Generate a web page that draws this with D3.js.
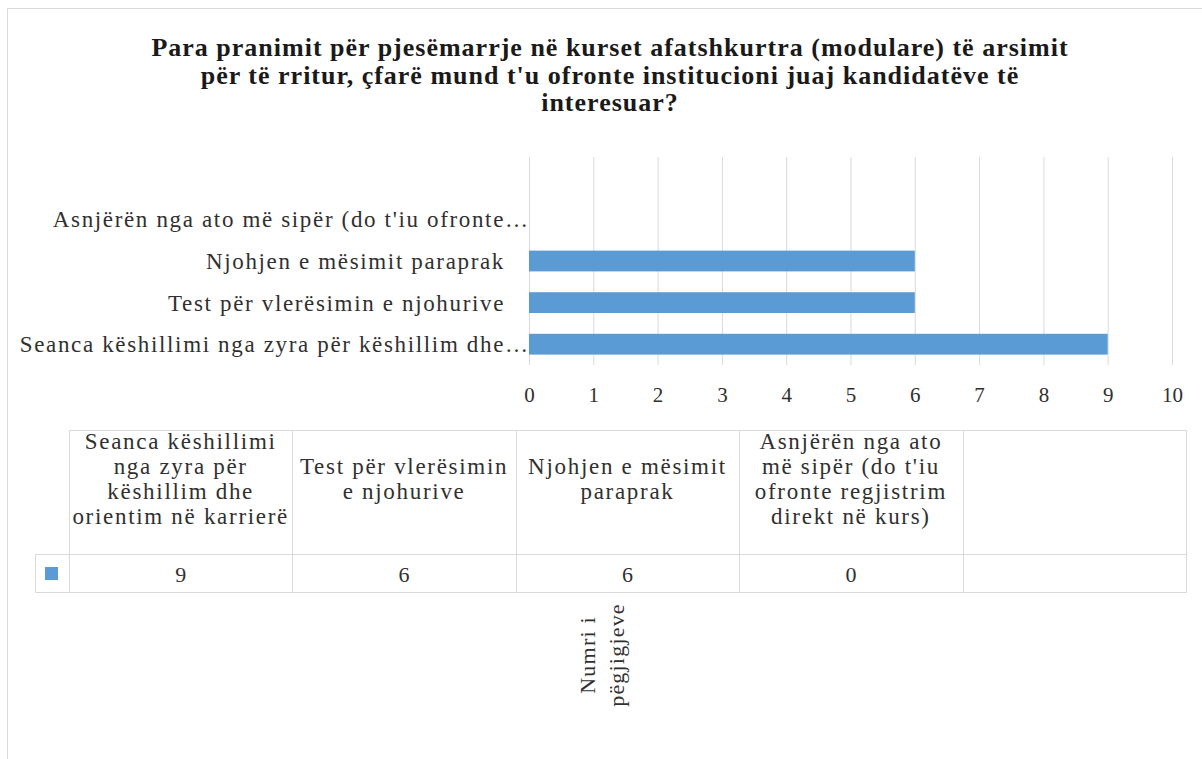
<!DOCTYPE html>
<html>
<head>
<meta charset="utf-8">
<script src="https://cdn.jsdelivr.net/npm/d3@7"></script>
<style>
  html, body { margin: 0; padding: 0; background: #fff; }
  svg { display: block; }
  text { font-family: "Liberation Serif", "Times New Roman", serif; }
</style>
</head>
<body>
<svg id="chart" width="1202" height="759"></svg>
<script>
// ---- data ----
const titleLines = [
  "Para pranimit për pjesëmarrje në kurset afatshkurtra (modulare) të arsimit",
  "për të rritur, çfarë mund t'u ofronte institucioni juaj kandidatëve të",
  "interesuar?"
];
const categories = [
  "Seanca këshillimi nga zyra për këshillim dhe orientim në karrierë",
  "Test për vlerësimin e njohurive",
  "Njohjen e mësimit paraprak",
  "Asnjërën nga ato më sipër (do t'iu ofronte regjistrim direkt në kurs)",
  ""
];
const axisLabels = [
  "Seanca këshillimi nga zyra për këshillim dhe…",
  "Test për vlerësimin e njohurive",
  "Njohjen e mësimit paraprak",
  "Asnjërën nga ato më sipër (do t'iu ofronte…",
  ""
];
const values = [9, 6, 6, 0, null];
const tableHeaderLines = [
  ["Seanca këshillimi", "nga zyra për", "këshillim  dhe", "orientim në karrierë"],
  ["Test për vlerësimin", "e njohurive"],
  ["Njohjen e mësimit", "paraprak"],
  ["Asnjërën nga ato", "më sipër (do t'iu", "ofronte regjistrim", "direkt në kurs)"],
  []
];
const xTicks = [0, 1, 2, 3, 4, 5, 6, 7, 8, 9, 10];
const axisTitleLines = ["Numri i", "pëgjigjeve"];

// ---- drawing ----
const svg = d3.select("#chart");
const textColor = "#303030";
const gridColor = "#d9d9d9";
const barColor = "#5b9bd5";

// outer chart border (top & left visible)
svg.append("path")
  .attr("d", "M7.5,759 L7.5,8.5 L1202,8.5")
  .attr("fill", "none").attr("stroke", gridColor).attr("stroke-width", 1);

// title
svg.append("g").selectAll("text").data(titleLines).join("text")
  .attr("x", 610).attr("y", (d, i) => 56 + i * 27.5)
  .attr("text-anchor", "middle")
  .attr("font-size", 26).attr("font-weight", "bold").attr("letter-spacing", 1)
  .attr("fill", "#1a1a1a")
  .text(d => d);

const x = d3.scaleLinear().domain([0, 10]).range([529, 1172]);
const yOrder = categories.map((c, i) => i).reverse(); // empty on top, first at bottom
const y = d3.scaleBand().domain(yOrder).range([157, 365]).paddingInner(0.5).paddingOuter(0.25);

// gridlines
svg.append("g").selectAll("line").data(xTicks).join("line")
  .attr("x1", d => x(d) + 0.5).attr("x2", d => x(d) + 0.5)
  .attr("y1", 157).attr("y2", 365)
  .attr("stroke", gridColor).attr("stroke-width", 1);

// bars
svg.append("g").selectAll("rect").data(values.map((v, i) => ({ v, i })).filter(d => d.v))
  .join("rect")
  .attr("x", x(0)).attr("y", d => y(d.i))
  .attr("width", d => x(d.v) - x(0)).attr("height", y.bandwidth())
  .attr("fill", barColor);

// category axis labels (ellipsis overflows past the label edge)
const labG = svg.append("g");
axisLabels.forEach((t, i) => {
  if (!t) return;
  const trunc = t.endsWith("…");
  const base = trunc ? t.slice(0, -1) : t;
  const yy = y(i) + y.bandwidth() / 2;
  labG.append("text")
    .attr("x", 505).attr("y", yy).attr("dy", "0.35em")
    .attr("text-anchor", "end")
    .attr("font-size", 23).attr("letter-spacing", 1.65)
    .attr("fill", textColor)
    .text(base);
  if (trunc) {
    labG.append("text")
      .attr("x", 505).attr("y", yy).attr("dy", "0.35em")
      .attr("text-anchor", "start")
      .attr("font-size", 23)
      .attr("fill", textColor)
      .text("…");
  }
});

// x axis
const xAxis = d3.axisBottom(x).tickValues(xTicks).tickSize(0).tickPadding(0);
const gx = svg.append("g").attr("transform", "translate(0,387)").call(xAxis);
gx.select(".domain").remove();
gx.selectAll("text").attr("font-size", 21).attr("fill", textColor).attr("dy", "0.71em");

// data table
const tLeft = 69, tRight = 1186, colW = (tRight - tLeft) / categories.length;
const hTop = 430.5, hBot = 554.5, vBot = 592.5, legLeft = 35;
const tbl = svg.append("g").attr("stroke", gridColor).attr("stroke-width", 1).attr("fill", "none");
tbl.append("rect").attr("x", tLeft + 0.5).attr("y", hTop).attr("width", tRight - tLeft).attr("height", vBot - hTop);
tbl.append("line").attr("x1", legLeft + 0.5).attr("x2", tRight + 0.5).attr("y1", hBot).attr("y2", hBot);
tbl.append("path").attr("d", `M${tLeft + 0.5},${hBot} L${legLeft + 0.5},${hBot} L${legLeft + 0.5},${vBot} L${tLeft + 0.5},${vBot}`);
tbl.selectAll("line.col").data(d3.range(1, categories.length)).join("line").attr("class", "col")
  .attr("x1", d => Math.round(tLeft + d * colW) + 0.5).attr("x2", d => Math.round(tLeft + d * colW) + 0.5)
  .attr("y1", hTop).attr("y2", vBot);

// header text
const hdr = svg.append("g");
tableHeaderLines.forEach((lines, ci) => {
  const cx = tLeft + (ci + 0.5) * colW;
  const n = lines.length;
  hdr.append("g").selectAll("text").data(lines).join("text")
    .attr("x", cx)
    .attr("y", (d, i) => 479 + (i - (n - 1) / 2) * 25)
    .attr("dy", "0.32em")
    .attr("text-anchor", "middle")
    .attr("font-size", 23).attr("letter-spacing", 1.7)
    .attr("fill", textColor)
    .text(d => d);
});

// legend key
svg.append("rect").attr("x", 45).attr("y", 567).attr("width", 13).attr("height", 13).attr("fill", barColor);

// value row
svg.append("g").selectAll("text").data(values.map((v, i) => ({ v, i })).filter(d => d.v !== null))
  .join("text")
  .attr("x", d => tLeft + (d.i + 0.5) * colW)
  .attr("y", 574).attr("dy", "0.35em")
  .attr("text-anchor", "middle")
  .attr("font-size", 22).attr("fill", textColor)
  .text(d => d.v);

// axis title (rotated, two lines)
svg.append("g").attr("transform", "translate(595,655) rotate(-90)")
  .selectAll("text").data(axisTitleLines).join("text")
  .attr("x", 0).attr("y", (d, i) => i * 29)
  .attr("text-anchor", "middle")
  .attr("font-size", 22).attr("letter-spacing", 1.2)
  .attr("fill", textColor)
  .text(d => d);
</script>
</body>
</html>
